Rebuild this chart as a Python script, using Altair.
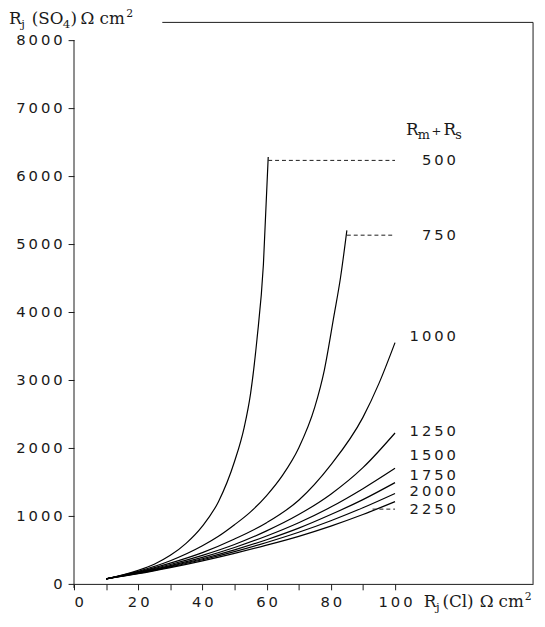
import altair as alt
import pandas as pd

INK = "#1a1a1a"
SANS = "DejaVu Sans"
SERIF = "DejaVu Serif"

# ---- data ----
x_ticks = [0, 10, 20, 30, 40, 50, 60, 70, 80, 90, 100]
y_ticks = [0, 1000, 2000, 3000, 4000, 5000, 6000, 7000, 8000]

x500 = [10, 15, 20, 25, 30, 35, 40, 45, 50, 53, 55, 57, 59, 60.5]
y500 = [75, 130, 200, 290, 420, 600, 850, 1210, 1800, 2300, 2800, 3600, 4700, 6280]

x750 = [10, 20, 30, 40, 45, 50, 55, 60, 65, 70, 75, 78, 81, 83, 85]
y750 = [75, 185, 340, 560, 700, 870, 1060, 1300, 1600, 2000, 2600, 3150, 3950, 4500, 5200]

x1000 = [10, 20, 30, 40, 50, 60, 70, 80, 90, 95, 100]
y1000 = [75, 175, 305, 460, 660, 900, 1230, 1750, 2450, 2950, 3550]

x_rest = [10, 20, 30, 40, 50, 60, 70, 80, 90, 100]
y1250 = [75, 170, 285, 420, 580, 780, 1020, 1320, 1710, 2220]
y1500 = [75, 165, 270, 390, 535, 705, 900, 1130, 1400, 1700]
y1750 = [75, 160, 260, 370, 500, 650, 820, 1020, 1240, 1490]
y2000 = [75, 155, 250, 355, 475, 610, 760, 930, 1120, 1330]
y2250 = [75, 150, 240, 340, 450, 570, 700, 850, 1020, 1210]

series = ["500", "750", "1000", "1250", "1500", "1750", "2000", "2250"]
label_y = [6230, 5130, 3650, 2250, 1900, 1600, 1360, 1100]

lead_series = ["500", "750", "2250"]
lead_x1 = [60.5, 85, 93]
lead_x2 = [100, 100, 100]
lead_y = [6230, 5130, 1100]

curves = [(x500, y500), (x750, y750), (x1000, y1000),
          (x_rest, y1250), (x_rest, y1500), (x_rest, y1750),
          (x_rest, y2000), (x_rest, y2250)]

rows = []
for name, (xs_, ys_) in zip(series, curves):
    for i, (a, b) in enumerate(zip(xs_, ys_)):
        rows.append({"s": name, "x": a, "y": b, "o": i})
df = pd.DataFrame(rows)

XMAX = 143
YMAX = 8260
THIN = "\u2009"

xs = alt.Scale(domain=[0, XMAX], nice=False, zero=True)
ys = alt.Scale(domain=[0, YMAX], nice=False, zero=True)


def spaced(s):
    return THIN.join(list(s))


base = alt.Chart(df)

lines = base.mark_line(color="black", strokeWidth=1.2, interpolate="monotone").encode(
    x=alt.X("x:Q", scale=xs, axis=alt.Axis(
        values=x_ticks, title=None, domain=True, domainColor=INK, domainWidth=1,
        tickColor=INK, tickSize=6, tickWidth=1, grid=False,
        labelExpr="datum.value % 20 == 0 ? join(split(datum.label, ''), '\u2009') : ''",
        labelFont=SANS, labelFontSize=15, labelColor=INK, labelPadding=5, format="d")),
    y=alt.Y("y:Q", scale=ys, axis=alt.Axis(
        values=y_ticks, title=None, domain=False,
        tickColor=INK, tickSize=6, tickWidth=1, grid=False,
        labelExpr="join(split(datum.label, ''), '\u2009')",
        labelFont=SANS, labelFontSize=15, labelColor=INK, labelPadding=6, format="d")),
    detail="s:N",
    order="o:Q",
)

one = alt.Data(values=[{"a": 0}])

yaxis_line = alt.Chart(one).mark_rule(color=INK, strokeWidth=1).encode(
    x=alt.datum(0, scale=xs), y=alt.datum(-60, scale=ys), y2=alt.datum(y_ticks[-1]))
right_frame = alt.Chart(one).mark_rule(color=INK, strokeWidth=1).encode(
    x=alt.datum(XMAX, scale=xs), y=alt.datum(0, scale=ys), y2=alt.datum(YMAX))
top_frame = alt.Chart(one).mark_rule(color=INK, strokeWidth=1).encode(
    x=alt.datum(27.5, scale=xs), x2=alt.datum(XMAX), y=alt.datum(YMAX, scale=ys))

lab_df = pd.DataFrame({"s": [spaced(s) for s in series], "y": label_y})
labels = alt.Chart(lab_df).mark_text(
    align="right", baseline="middle", font=SANS, fontSize=15, color=INK
).encode(x=alt.datum(119, scale=xs), y=alt.Y("y:Q", scale=ys), text="s:N")

lead_df = pd.DataFrame({"s": lead_series, "x1": lead_x1, "x2": lead_x2, "y": lead_y})
leads = alt.Chart(lead_df).mark_rule(color=INK, strokeWidth=1, strokeDash=[4, 3]).encode(
    x=alt.X("x1:Q", scale=xs), x2="x2:Q", y=alt.Y("y:Q", scale=ys))


def piece(txt, px, py, size, font=SERIF):
    return alt.Chart(one).mark_text(
        text=txt, font=font, fontSize=size, align="left", baseline="alphabetic", color=INK
    ).encode(x=alt.value(px), y=alt.value(py))


# y-axis title: R_j (SO_4) Ω cm^2   (plot origin is at page (75,18))
ytitle = [
    piece("R", -66, 2, 17),
    piece("j", -53.5, 6, 12),
    piece("(SO", -43, 2, 17),
    piece("4", -11.5, 6, 12),
    piece(")", -3.5, 2, 17),
    piece("\u03a9", 6.5, 2, 17),
    piece("cm", 26, 2, 17),
    piece("2", 53, -5, 11),
]
# x-axis title: R_j(Cl) Ω cm^2
xtitle = [
    piece("R", 355, 593, 17),
    piece("j", 367.5, 597, 12),
    piece("(Cl)", 374, 593, 17),
    piece("\u03a9", 412, 593, 17),
    piece("cm", 431, 593, 17),
    piece("2", 457.5, 586, 11),
]
# legend header: R_m + R_s
header = [
    piece("R", 337, 114, 17),
    piece("m", 349, 118, 13),
    piece("+", 363, 114, 12),
    piece("R", 375, 114, 17),
    piece("s", 387, 118, 13),
]

chart = alt.layer(
    lines, yaxis_line, right_frame, top_frame, leads, labels, *ytitle, *xtitle, *header
).properties(
    width=466, height=570,
    autosize=alt.AutoSizeParams(type="none"),
    padding={"left": 67, "top": 10, "right": 4, "bottom": 31},
    background="white",
).configure_view(stroke=None)

chart.save("out.html", embed_options={"renderer": "svg", "actions": False})
